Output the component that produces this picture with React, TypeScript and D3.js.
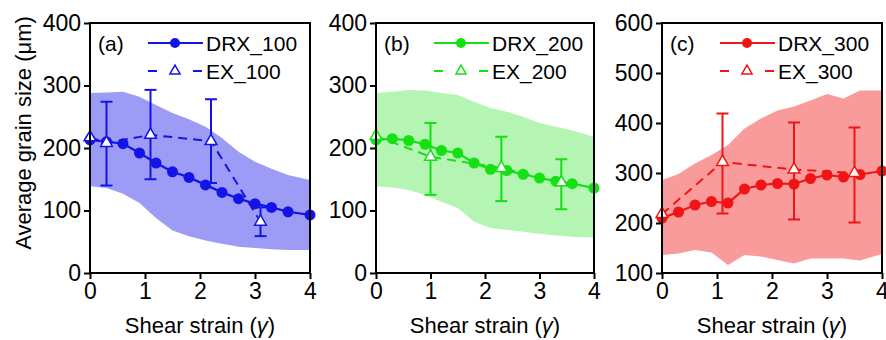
import React, { useEffect, useRef } from "react";
import * as d3 from "d3";

// shear strain steps of the simulated (DRX) curves and of the bands
const strain = [0, 0.3, 0.6, 0.9, 1.2, 1.5, 1.8, 2.1, 2.4, 2.7, 3.0, 3.3, 3.6, 4.0];

// (a) 100
const drx100 = [213, 210, 207, 192, 176, 162, 153, 141, 129, 119, 111, 105, 98, 93];
const band100Upper = [288, 289, 290, 282, 269, 256, 246, 234, 216, 194, 178, 167, 157, 149];
const band100Lower = [139, 136, 127, 112, 88, 68, 59, 52, 47, 42, 40, 38, 37, 37];
const ex100Strain = [0, 0.3, 1.1, 2.2, 3.1];
const ex100 = [217, 208, 221, 211, 82];
const ex100Low = [null, 140, 150, 144, 59];
const ex100High = [null, 274, 293, 278, 105];

// (b) 200
const drx200 = [213, 215, 212, 206, 196, 192, 176, 166, 164, 158, 152, 147, 143, 136];
const band200Upper = [288, 290, 293, 292, 288, 285, 274, 264, 258, 250, 240, 234, 228, 218];
const band200Lower = [139, 137, 133, 125, 114, 104, 82, 72, 69, 66, 63, 60, 58, 57];
const ex200Strain = [0, 1.0, 2.3, 3.4];
const ex200 = [219, 186, 168, 145];
const ex200Low = [null, 125, 115, 102];
const ex200High = [null, 240, 218, 182];

// (c) 300
const drx300 = [210, 222, 236, 243, 240, 268, 276, 279, 278, 289, 296, 292, 297, 304];
const band300Upper = [286, 298, 319, 336, 356, 389, 409, 425, 433, 445, 458, 449, 465, 465];
const band300Lower = [136, 139, 146, 141, 116, 136, 133, 126, 119, 129, 129, 129, 125, 138];
const ex300Strain = [0, 1.1, 2.4, 3.5];
const ex300 = [218, 322, 307, 300];
const ex300Low = [null, 219, 207, 201];
const ex300High = [null, 419, 401, 391];

const xTicks = [0, 1, 2, 3, 4];
const yTicksAB = [0, 100, 200, 300, 400];
const yTicksC = [100, 200, 300, 400, 500, 600];

const panels = [
  { tag: "(a)", drxName: "DRX_100", exName: "EX_100", drx: drx100, hi: band100Upper, lo: band100Lower,
    exX: ex100Strain, ex: ex100, exLo: ex100Low, exHi: ex100High, yTicks: yTicksAB,
    line: "#1414e6", fill: "#9c9cf7", left: 90, right: 310 },
  { tag: "(b)", drxName: "DRX_200", exName: "EX_200", drx: drx200, hi: band200Upper, lo: band200Lower,
    exX: ex200Strain, ex: ex200, exLo: ex200Low, exHi: ex200High, yTicks: yTicksAB,
    line: "#14e014", fill: "#b4f5b4", left: 376, right: 594 },
  { tag: "(c)", drxName: "DRX_300", exName: "EX_300", drx: drx300, hi: band300Upper, lo: band300Lower,
    exX: ex300Strain, ex: ex300, exLo: ex300Low, exHi: ex300High, yTicks: yTicksC,
    line: "#f01414", fill: "#f99b9b", left: 662, right: 882 },
];

const FONT = "'Liberation Sans', Arial, sans-serif";

export default function App() {
  const svgRef = useRef<SVGSVGElement>(null);

  useEffect(() => {
    const svg = d3.select(svgRef.current);
    svg.selectAll("*").remove();
    const top = 23;
    const bottom = 273;

    panels.forEach((p) => {
      const x = d3.scaleLinear().domain([0, 4]).range([p.left, p.right]);
      const y = d3
        .scaleLinear()
        .domain([p.yTicks[0], p.yTicks[p.yTicks.length - 1]])
        .range([bottom, top]);
      const g = svg.append("g");

      // shaded range band
      const band = d3
        .area<number>()
        .x((_, j) => x(strain[j]))
        .y0((_, j) => y(p.lo[j]))
        .y1((d) => y(d));
      g.append("path").datum(p.hi).attr("d", band).attr("fill", p.fill);

      // DRX curve
      const drxLine = d3
        .line<number>()
        .x((_, j) => x(strain[j]))
        .y((d) => y(d));
      g.append("path")
        .datum(p.drx)
        .attr("d", drxLine)
        .attr("fill", "none")
        .attr("stroke", p.line)
        .attr("stroke-width", 2.2);
      g.selectAll(".dot")
        .data(p.drx)
        .enter()
        .append("circle")
        .attr("cx", (_, j) => x(strain[j]))
        .attr("cy", (d) => y(d))
        .attr("r", 5.5)
        .attr("fill", p.line);

      // EX dashed line
      const exLine = d3
        .line<number>()
        .x((_, j) => x(p.exX[j]))
        .y((d) => y(d));
      g.append("path")
        .datum(p.ex)
        .attr("d", exLine)
        .attr("fill", "none")
        .attr("stroke", p.line)
        .attr("stroke-width", 2)
        .attr("stroke-dasharray", "9,6");

      // error bars
      p.exX.forEach((s, j) => {
        const lo = p.exLo[j];
        const hi = p.exHi[j];
        if (lo == null || hi == null) return;
        const cx = x(s);
        const eb = g.append("g").attr("stroke", p.line).attr("stroke-width", 2);
        eb.append("line").attr("x1", cx).attr("x2", cx).attr("y1", y(lo)).attr("y2", y(hi));
        eb.append("line").attr("x1", cx - 6).attr("x2", cx + 6).attr("y1", y(lo)).attr("y2", y(lo));
        eb.append("line").attr("x1", cx - 6).attr("x2", cx + 6).attr("y1", y(hi)).attr("y2", y(hi));
      });

      const tri = d3.symbol(d3.symbolTriangle, 60);
      g.selectAll(".tri")
        .data(p.ex)
        .enter()
        .append("path")
        .attr("d", tri)
        .attr("transform", (d, j) => `translate(${x(p.exX[j])},${y(d)})`)
        .attr("fill", "#fff")
        .attr("stroke", p.line)
        .attr("stroke-width", 1.5);

      // axes
      const xAxis = g
        .append("g")
        .attr("transform", `translate(0,${bottom})`)
        .call(d3.axisBottom(x).tickValues(xTicks).tickSize(6).tickPadding(4).tickFormat(d3.format("d")));
      const yAxis = g
        .append("g")
        .attr("transform", `translate(${p.left},0)`)
        .call(d3.axisLeft(y).tickValues(p.yTicks).tickSize(6).tickPadding(3).tickFormat(d3.format("d")));
      [xAxis, yAxis].forEach((ax) => {
        ax.select(".domain").remove();
        ax.selectAll("line").attr("stroke", "#000").attr("stroke-width", 2);
        ax.selectAll("text")
          .attr("fill", "#000")
          .style("font-family", FONT)
          .style("font-size", "23px");
      });

      // frame
      g.append("rect")
        .attr("x", p.left)
        .attr("y", top)
        .attr("width", p.right - p.left)
        .attr("height", bottom - top)
        .attr("fill", "none")
        .attr("stroke", "#000")
        .attr("stroke-width", 2);

      // legend
      const lg = g.append("g").style("font-family", FONT).style("font-size", "21px");
      lg.append("text").attr("x", p.left + 8).attr("y", 51).text(p.tag);
      lg.append("line")
        .attr("x1", p.left + 58).attr("x2", p.left + 113)
        .attr("y1", 43).attr("y2", 43)
        .attr("stroke", p.line).attr("stroke-width", 2);
      lg.append("circle").attr("cx", p.left + 85).attr("cy", 43).attr("r", 5).attr("fill", p.line);
      lg.append("text").attr("x", p.left + 116).attr("y", 51).text(p.drxName);
      [[58, 67], [103, 112]].forEach(([a, b]) => {
        lg.append("line")
          .attr("x1", p.left + a).attr("x2", p.left + b)
          .attr("y1", 71).attr("y2", 71)
          .attr("stroke", p.line).attr("stroke-width", 2);
      });
      lg.append("path")
        .attr("d", d3.symbol(d3.symbolTriangle, 45))
        .attr("transform", `translate(${p.left + 85},71)`)
        .attr("fill", "#fff").attr("stroke", p.line).attr("stroke-width", 1.5);
      lg.append("text").attr("x", p.left + 116).attr("y", 79).text(p.exName);

      // x title
      const xt = g
        .append("text")
        .attr("x", (p.left + p.right) / 2)
        .attr("y", 333)
        .attr("text-anchor", "middle")
        .style("font-family", FONT)
        .style("font-size", "22px");
      xt.append("tspan").text("Shear strain (");
      xt.append("tspan").style("font-style", "italic").text("γ");
      xt.append("tspan").text(")");
    });

    svg.append("text")
      .attr("transform", "translate(31,133) rotate(-90)")
      .attr("text-anchor", "middle")
      .style("font-family", FONT)
      .style("font-size", "22px")
      .text("Average grain size (μm)");
  }, []);

  return (
    <svg
      ref={svgRef}
      width={886}
      height={340}
      style={{ position: "absolute", left: 0, top: 0, background: "#fff" }}
    />
  );
}
